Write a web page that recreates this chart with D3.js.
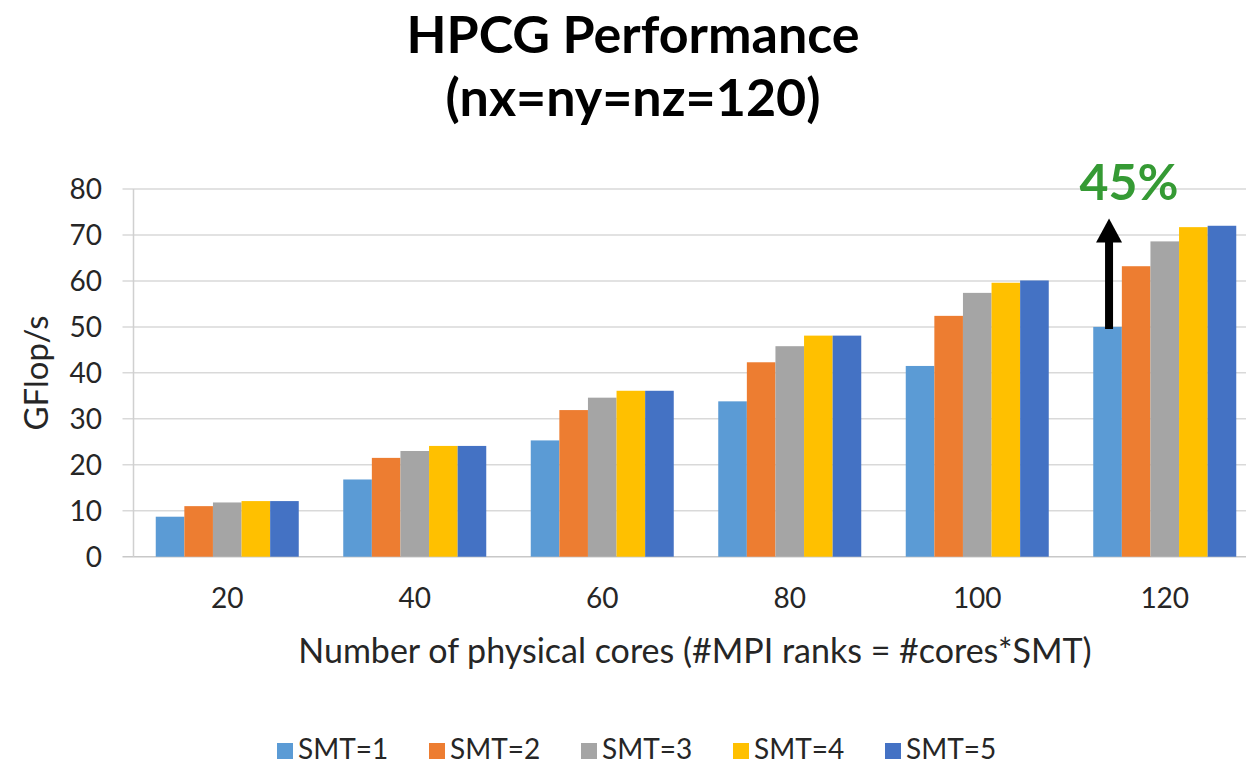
<!DOCTYPE html>
<html>
<head>
<meta charset="utf-8">
<script src="https://cdn.jsdelivr.net/npm/d3@7"></script>
<style>
    body { margin: 0; background: #fff; }
    text { font-family: Lato, "Open Sans", sans-serif; fill: #262626; }
</style>
</head>
<body>
<svg id="chart" width="1246" height="764"></svg>
<script>
// Chart data
const cores = ['20', '40', '60', '80', '100', '120'];
const seriesNames = ['SMT=1', 'SMT=2', 'SMT=3', 'SMT=4', 'SMT=5'];
const smt1 = [8.7, 16.8, 25.3, 33.8, 41.5, 50.0];
const smt2 = [11.0, 21.5, 31.9, 42.3, 52.4, 63.2];
const smt3 = [11.8, 23.0, 34.6, 45.8, 57.4, 68.6];
const smt4 = [12.1, 24.1, 36.1, 48.1, 59.6, 71.7];
const smt5 = [12.1, 24.1, 36.1, 48.1, 60.1, 72.0];
const yTicks = [0, 10, 20, 30, 40, 50, 60, 70, 80];
const colors = ['#5B9BD5', '#ED7D31', '#A5A5A5', '#FFC000', '#4472C4'];
const arrowTop = 73.6; // where the annotation arrow points to
const gainLabel = '45%';

const svg = d3.select('#chart');
const margin = { left: 133.5, top: 189, bottom: 556.7 };

const allSeries = [smt1, smt2, smt3, smt4, smt5];
const rows = cores.map((c, i) => ({ core: c, values: allSeries.map((s, k) => ({ key: seriesNames[k], k: k, v: s[i] })) }));

// Scales
const y = d3.scaleLinear().domain([0, 80]).range([margin.bottom, margin.top]);
const x0 = d3.scaleBand().domain(cores).range([margin.left, margin.left + 187.5 * cores.length]);
const groupPad = 22.25;
const x1 = d3.scaleBand().domain(seriesNames).range([groupPad, x0.bandwidth() - groupPad]);

// Gridlines (extend a bit left as tick marks)
svg.append('g').selectAll('line.grid')
    .data(yTicks)
    .join('line')
    .attr('class', 'grid')
    .attr('x1', margin.left - 11)
    .attr('x2', 1246)
    .attr('y1', d => y(d))
    .attr('y2', d => y(d))
    .attr('stroke', d => d === 0 ? '#c8c8c8' : '#d9d9d9')
    .attr('stroke-width', 1.5);

// Vertical axis line
svg.append('line')
    .attr('x1', margin.left).attr('x2', margin.left)
    .attr('y1', y(80)).attr('y2', y(0))
    .attr('stroke', '#d0d0d0').attr('stroke-width', 1.5);

// Y tick labels
svg.append('g').selectAll('text')
    .data(yTicks)
    .join('text')
    .attr('x', 102)
    .attr('y', d => y(d))
    .attr('dy', '0.36em')
    .attr('text-anchor', 'end')
    .style('font-size', '28px')
    .text(d => d);

// Bars
const groups = svg.append('g').selectAll('g.group')
    .data(rows)
    .join('g')
    .attr('class', 'group')
    .attr('transform', d => `translate(${x0(d.core)},0)`);

groups.selectAll('rect')
    .data(d => d.values)
    .join('rect')
    .attr('x', d => x1(d.key))
    .attr('width', x1.bandwidth())
    .attr('y', d => y(d.v))
    .attr('height', d => y(0) - y(d.v))
    .attr('fill', d => colors[d.k]);

// X tick labels
svg.append('g').selectAll('text')
    .data(cores)
    .join('text')
    .attr('x', d => x0(d) + x0.bandwidth() / 2)
    .attr('y', 608)
    .attr('text-anchor', 'middle')
    .style('font-size', '28px')
    .text(d => d);

// Axis titles
svg.append('text')
    .attr('x', 695).attr('y', 663)
    .attr('text-anchor', 'middle')
    .style('font-size', '34px')
    .text('Number of physical cores (#MPI ranks = #cores*SMT)');

svg.append('text')
    .attr('transform', 'translate(48,373) rotate(-90)')
    .attr('text-anchor', 'middle')
    .style('font-size', '33px')
    .text('GFlop/s');

// Title
const title = svg.append('text')
    .attr('text-anchor', 'middle')
    .style('font-size', '52px')
    .style('font-weight', 'bold')
    .style('fill', '#000');
title.append('tspan').attr('x', 633).attr('y', 53).text('HPCG Performance');
title.append('tspan').attr('x', 633).attr('y', 116).text('(nx=ny=nz=120)');

// Arrow annotation on the 120-core group
const last = rows[rows.length - 1];
const ax = x0(last.core) + x1(seriesNames[0]) + x1.bandwidth() / 2 + 1.5;
const headH = 24, headW = 26;
svg.append('line')
    .attr('x1', ax).attr('x2', ax)
    .attr('y1', y(smt1[smt1.length - 1]) + 2)
    .attr('y2', y(arrowTop) + headH - 1)
    .attr('stroke', '#000').attr('stroke-width', 8);
svg.append('path')
    .attr('d', `M${ax},${y(arrowTop)} L${ax + headW / 2},${y(arrowTop) + headH} L${ax - headW / 2},${y(arrowTop) + headH} Z`)
    .attr('fill', '#000');

svg.append('text')
    .attr('x', 1129).attr('y', 200)
    .attr('text-anchor', 'middle')
    .style('font-size', '50px')
    .style('font-weight', 'bold')
    .style('fill', '#359a34')
    .text(gainLabel);

// Legend
const legend = svg.append('g').selectAll('g.item')
    .data(seriesNames)
    .join('g')
    .attr('class', 'item')
    .attr('transform', (d, i) => `translate(${277 + i * 152},743)`);

legend.append('rect')
    .attr('width', 16).attr('height', 16)
    .attr('fill', (d, i) => colors[i]);
legend.append('text')
    .attr('x', 21).attr('y', 16)
    .style('font-size', '28px')
    .text(d => d);
</script>
</body>
</html>
